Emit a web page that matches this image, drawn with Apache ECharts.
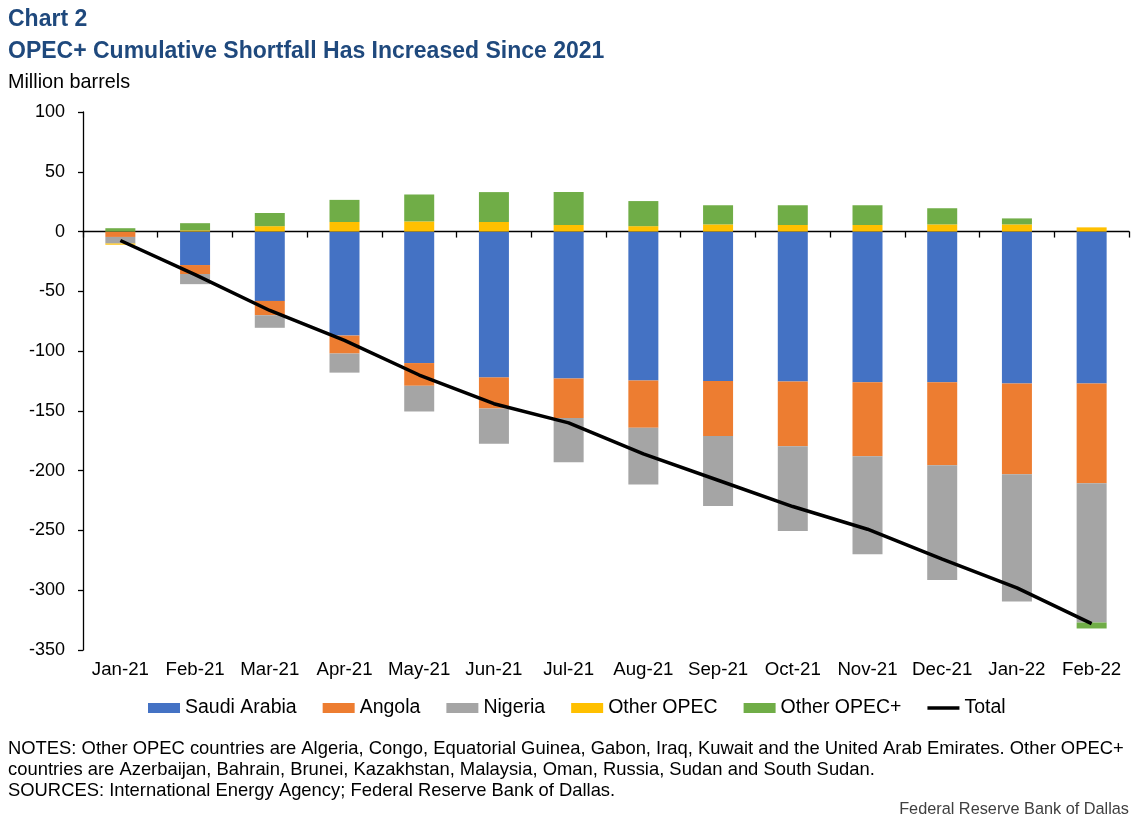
<!DOCTYPE html>
<html>
<head>
<meta charset="UTF-8">
<title>Chart 2</title>
<style>
  html, body { margin: 0; padding: 0; background: #fff; }
  #chart { width: 1138px; height: 827px; }
</style>
</head>
<body>
<div id="chart"></div>
<script src="https://cdn.jsdelivr.net/npm/echarts@6/dist/echarts.min.js"></script>
<script>
// categories
var months = ['Jan-21', 'Feb-21', 'Mar-21', 'Apr-21', 'May-21', 'Jun-21', 'Jul-21',
              'Aug-21', 'Sep-21', 'Oct-21', 'Nov-21', 'Dec-21', 'Jan-22', 'Feb-22'];

// million barrels
var saudiArabia = [0, -28, -58, -87, -110, -122, -123, -124.5, -125, -125.5, -126, -126, -127, -127];
var angola = [-4.5, -7.5, -12, -15, -19, -26, -33, -39.5, -46, -54, -62, -69.5, -76, -83.5];
var nigeria = [-5.5, -8.5, -10.5, -16, -21.5, -29.5, -37, -47.5, -58.5, -71, -82, -96, -106.5, -116.5];
var otherOpec = [-1, 1, 4.5, 8, 8.5, 8, 5.5, 4.5, 6, 5.5, 5.5, 6, 6, 3.5];
var otherOpecPlus = [2.8, 6, 11, 18.5, 22.5, 25, 27.5, 21, 16, 16.5, 16.5, 13.5, 5, -5];
var total = [-7.5, -36, -66, -91, -120, -144, -160, -186, -208, -230, -249, -274, -298, -328];

var font = "'Liberation Sans', Arial, sans-serif";
var titleBlue = '#1F497D';

var myChart = echarts.init(document.getElementById('chart'));

function barSeries(name, data, color) {
    return {
        name: name,
        type: 'bar',
        stack: 'shortfall',
        barWidth: 30,
        data: data,
        itemStyle: { color: color },
        emphasis: { disabled: true }
    };
}

var option = {
    backgroundColor: '#fff',
    animation: false,
    textStyle: { fontFamily: font },
    grid: { left: 83, right: 9, top: 112, bottom: 177, containLabel: false },
    legend: {
        left: 143,
        top: 693,
        itemWidth: 32,
        itemHeight: 10,
        itemGap: 26,
        symbolKeepAspect: true,
        textStyle: { fontSize: 19.5, color: '#000', fontFamily: font },
        data: [
            { name: 'Saudi Arabia', icon: 'rect' },
            { name: 'Angola', icon: 'rect' },
            { name: 'Nigeria', icon: 'rect' },
            { name: 'Other OPEC', icon: 'rect' },
            { name: 'Other OPEC+', icon: 'rect' },
            { name: 'Total', icon: 'path://M0,0 H32 V3.5 H0 Z', itemStyle: { color: '#000' } }
        ]
    },
    xAxis: [{
        type: 'category',
        data: months,
        axisLine: { onZero: true, lineStyle: { color: '#000', width: 1.3 } },
        axisTick: { show: true, length: 6, lineStyle: { color: '#000', width: 1.3 } },
        axisLabel: { show: false },
        splitLine: { show: false }
    }, {
        type: 'category',
        data: months,
        position: 'bottom',
        axisLine: { show: false, onZero: false },
        axisTick: { show: false },
        axisLabel: { interval: 0, margin: 10, fontSize: 18.7, color: '#000', fontFamily: font },
        splitLine: { show: false }
    }],
    yAxis: {
        type: 'value',
        min: -350,
        max: 100,
        interval: 50,
        axisLine: { show: true, lineStyle: { color: '#000', width: 1.3 } },
        axisTick: { show: true, length: 5, lineStyle: { color: '#000', width: 1.3 } },
        axisLabel: { margin: 18, fontSize: 18, color: '#000', fontFamily: font },
        splitLine: { show: false }
    },
    series: [
        barSeries('Saudi Arabia', saudiArabia, '#4472C4'),
        barSeries('Angola', angola, '#ED7D31'),
        barSeries('Nigeria', nigeria, '#A5A5A5'),
        barSeries('Other OPEC', otherOpec, '#FFC000'),
        barSeries('Other OPEC+', otherOpecPlus, '#70AD47'),
        {
            name: 'Total',
            type: 'line',
            data: total,
            symbol: 'none',
            showSymbol: false,
            z: 5,
            lineStyle: { color: '#000', width: 3.5 },
            itemStyle: { color: '#000' },
            emphasis: { disabled: true }
        }
    ],
    graphic: [
        { type: 'text', left: 8, top: 8, style: { text: 'Chart 2', font: 'bold 23px ' + font, fill: titleBlue } },
        { type: 'text', left: 8, top: 40, style: { text: 'OPEC+ Cumulative Shortfall Has Increased Since 2021', font: 'bold 23px ' + font, fill: titleBlue } },
        { type: 'text', left: 8, top: 73, style: { text: 'Million barrels', font: '19.8px ' + font, fill: '#000' } },
        { type: 'text', left: 8, top: 738, style: {
            text: 'NOTES: Other OPEC countries are Algeria, Congo, Equatorial Guinea, Gabon, Iraq, Kuwait and the United Arab Emirates. Other OPEC+\ncountries are Azerbaijan, Bahrain, Brunei, Kazakhstan, Malaysia, Oman, Russia, Sudan and South Sudan.\nSOURCES: International Energy Agency; Federal Reserve Bank of Dallas.',
            font: '18.4px ' + font, fill: '#000', lineHeight: 21 } },
        { type: 'text', right: 9, top: 802, style: { text: 'Federal Reserve Bank of Dallas', font: '16.3px ' + font, fill: '#404040' } }
    ]
};

myChart.setOption(option);
</script>
</body>
</html>
